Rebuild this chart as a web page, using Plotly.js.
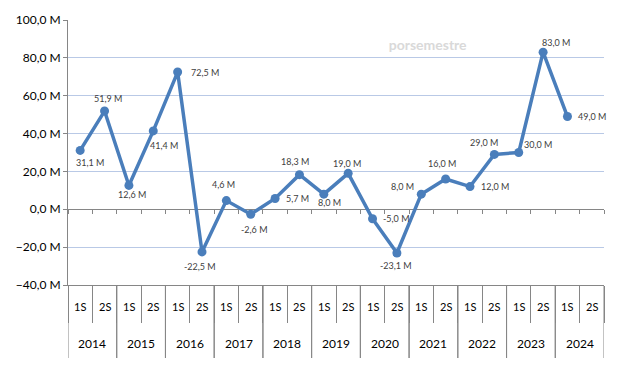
<!DOCTYPE html>
<html>
<head>
<meta charset="utf-8">
<script src="https://cdn.plot.ly/plotly-3.0.1.min.js"></script>
<style>html,body{margin:0;padding:0;background:#fff;}#chart{width:618px;height:373px;}</style>
</head>
<body>
<div id="chart"></div>
<script>
var years = ['2014','2014','2015','2015','2016','2016','2017','2017','2018','2018','2019','2019',
             '2020','2020','2021','2021','2022','2022','2023','2023','2024','2024'];
var semesters = ['1S','2S','1S','2S','1S','2S','1S','2S','1S','2S','1S','2S',
                 '1S','2S','1S','2S','1S','2S','1S','2S','1S','2S'];
var values = [31.1, 51.9, 12.6, 41.4, 72.5, -22.5, 4.6, -2.6, 5.7, 18.3, 8.0, 19.0,
              -5.0, -23.1, 8.0, 16.0, 12.0, 29.0, 30.0, 83.0, 49.0, null];
var titleText = 'porsemestre';

var labels = values.map(function(v){ return v === null ? '' : v.toFixed(1).replace('.', ',') + ' M'; });
var flatCats = years.map(function(y, i){ return y + ' ' + semesters[i]; });

// label offsets in pixels (right, down) from each point
var labelShift = [[10,12],[3,-13],[3,9],[11,15],[27,0],[-2,15],[-3,-16],[4,15],[22,0],[-4,-13],
                  [6,8],[-1,-10],[24,0],[-1,12],[-19,-8],[-4,-16],[25,0],[-10,-12],[19,-8],[13,-10],
                  [25,0],[0,0]];

var font = 'Lato, "Liberation Sans", sans-serif';
var blue = '#4a7ebb';
var axisGray = '#868686';
var plotH = 373 - 20 - 88;

var annotations = [];
var shapes = [];
values.forEach(function(v, i){
  if (v === null) return;
  annotations.push({xref: 'x', yref: 'y', x: flatCats[i], y: v, xshift: labelShift[i][0], yshift: -labelShift[i][1],
    xanchor: 'center', yanchor: 'middle', text: labels[i], showarrow: false,
    font: {family: font, size: 9, color: '#404040'}});
});
semesters.forEach(function(s, i){
  annotations.push({xref: 'x', yref: 'paper', x: flatCats[i], y: 0, yshift: -21, yanchor: 'middle',
    xanchor: 'center', text: s, showarrow: false, font: {family: font, size: 11, color: '#000000'}});
});
var yearList = [];
years.forEach(function(y){ if (yearList.indexOf(y) < 0) yearList.push(y); });
yearList.forEach(function(y){
  var first = years.indexOf(y), last = years.lastIndexOf(y);
  annotations.push({xref: 'x', yref: 'paper', x: (first + last) / 2, y: 0, yshift: -58, yanchor: 'middle',
    xanchor: 'center', text: y, showarrow: false, font: {family: font, size: 12, color: '#000000'}});
  shapes.push({type: 'line', xref: 'x', yref: 'paper', x0: first - 0.5, x1: first - 0.5,
    y0: 0, y1: -73 / plotH, line: {color: axisGray, width: 1}});
  shapes.push({type: 'line', xref: 'x', yref: 'paper', x0: last + 0.5, x1: last + 0.5,
    y0: 0, y1: -73 / plotH, line: {color: axisGray, width: 1}});
});

var traces = [
  {
    x: flatCats, y: values, type: 'scatter', mode: 'lines+markers',
    line: {color: blue, width: 3.5}, marker: {color: blue, size: 9},
    cliponaxis: false, hoverinfo: 'skip', showlegend: false, connectgaps: false
  },
  {
    x: flatCats, y: values.map(function(){ return null; }), xaxis: 'x2', yaxis: 'y',
    type: 'scatter', mode: 'markers', showlegend: false, hoverinfo: 'skip'
  }
];

var layout = {
  width: 618, height: 373,
  margin: {l: 68, r: 14, t: 20, b: 88},
  paper_bgcolor: '#ffffff', plot_bgcolor: '#ffffff',
  separators: ', ',
  font: {family: font, size: 12, color: '#262626'},
  title: {text: '<b>' + titleText + '</b>', x: 0.692, xanchor: 'center', y: 0.88, yanchor: 'middle',
          font: {family: font, size: 14, color: '#d9d9d9'}},
  xaxis: {
    type: 'category', categoryorder: 'array', categoryarray: flatCats, range: [-0.5, 21.5],
    showticklabels: false, showgrid: false, zeroline: false,
    showline: true, linecolor: axisGray, linewidth: 1,
    ticks: 'outside', tickson: 'boundaries', ticklen: 37, tickcolor: axisGray
  },
  xaxis2: {
    type: 'category', overlaying: 'x', anchor: 'free', position: 40/140,
    categoryorder: 'array', categoryarray: flatCats, range: [-0.5, 21.5],
    showticklabels: false, showgrid: false, zeroline: false, showline: false,
    ticks: 'outside', tickson: 'boundaries', ticklen: 4, tickcolor: axisGray
  },
  yaxis: {
    range: [-40, 100], dtick: 20, tick0: 0, tickformat: '.1f', ticksuffix: ' M',
    showgrid: true, gridcolor: '#b9c9e6', gridwidth: 1,
    zeroline: true, zerolinecolor: axisGray, zerolinewidth: 1,
    showline: true, linecolor: axisGray, linewidth: 1,
    ticks: 'outside', ticklen: 4, tickcolor: axisGray,
    tickfont: {family: font, size: 12, color: '#000000'}
  },
  annotations: annotations,
  shapes: shapes
};

Plotly.newPlot('chart', traces, layout, {displayModeBar: false, staticPlot: true});
</script>
</body>
</html>
